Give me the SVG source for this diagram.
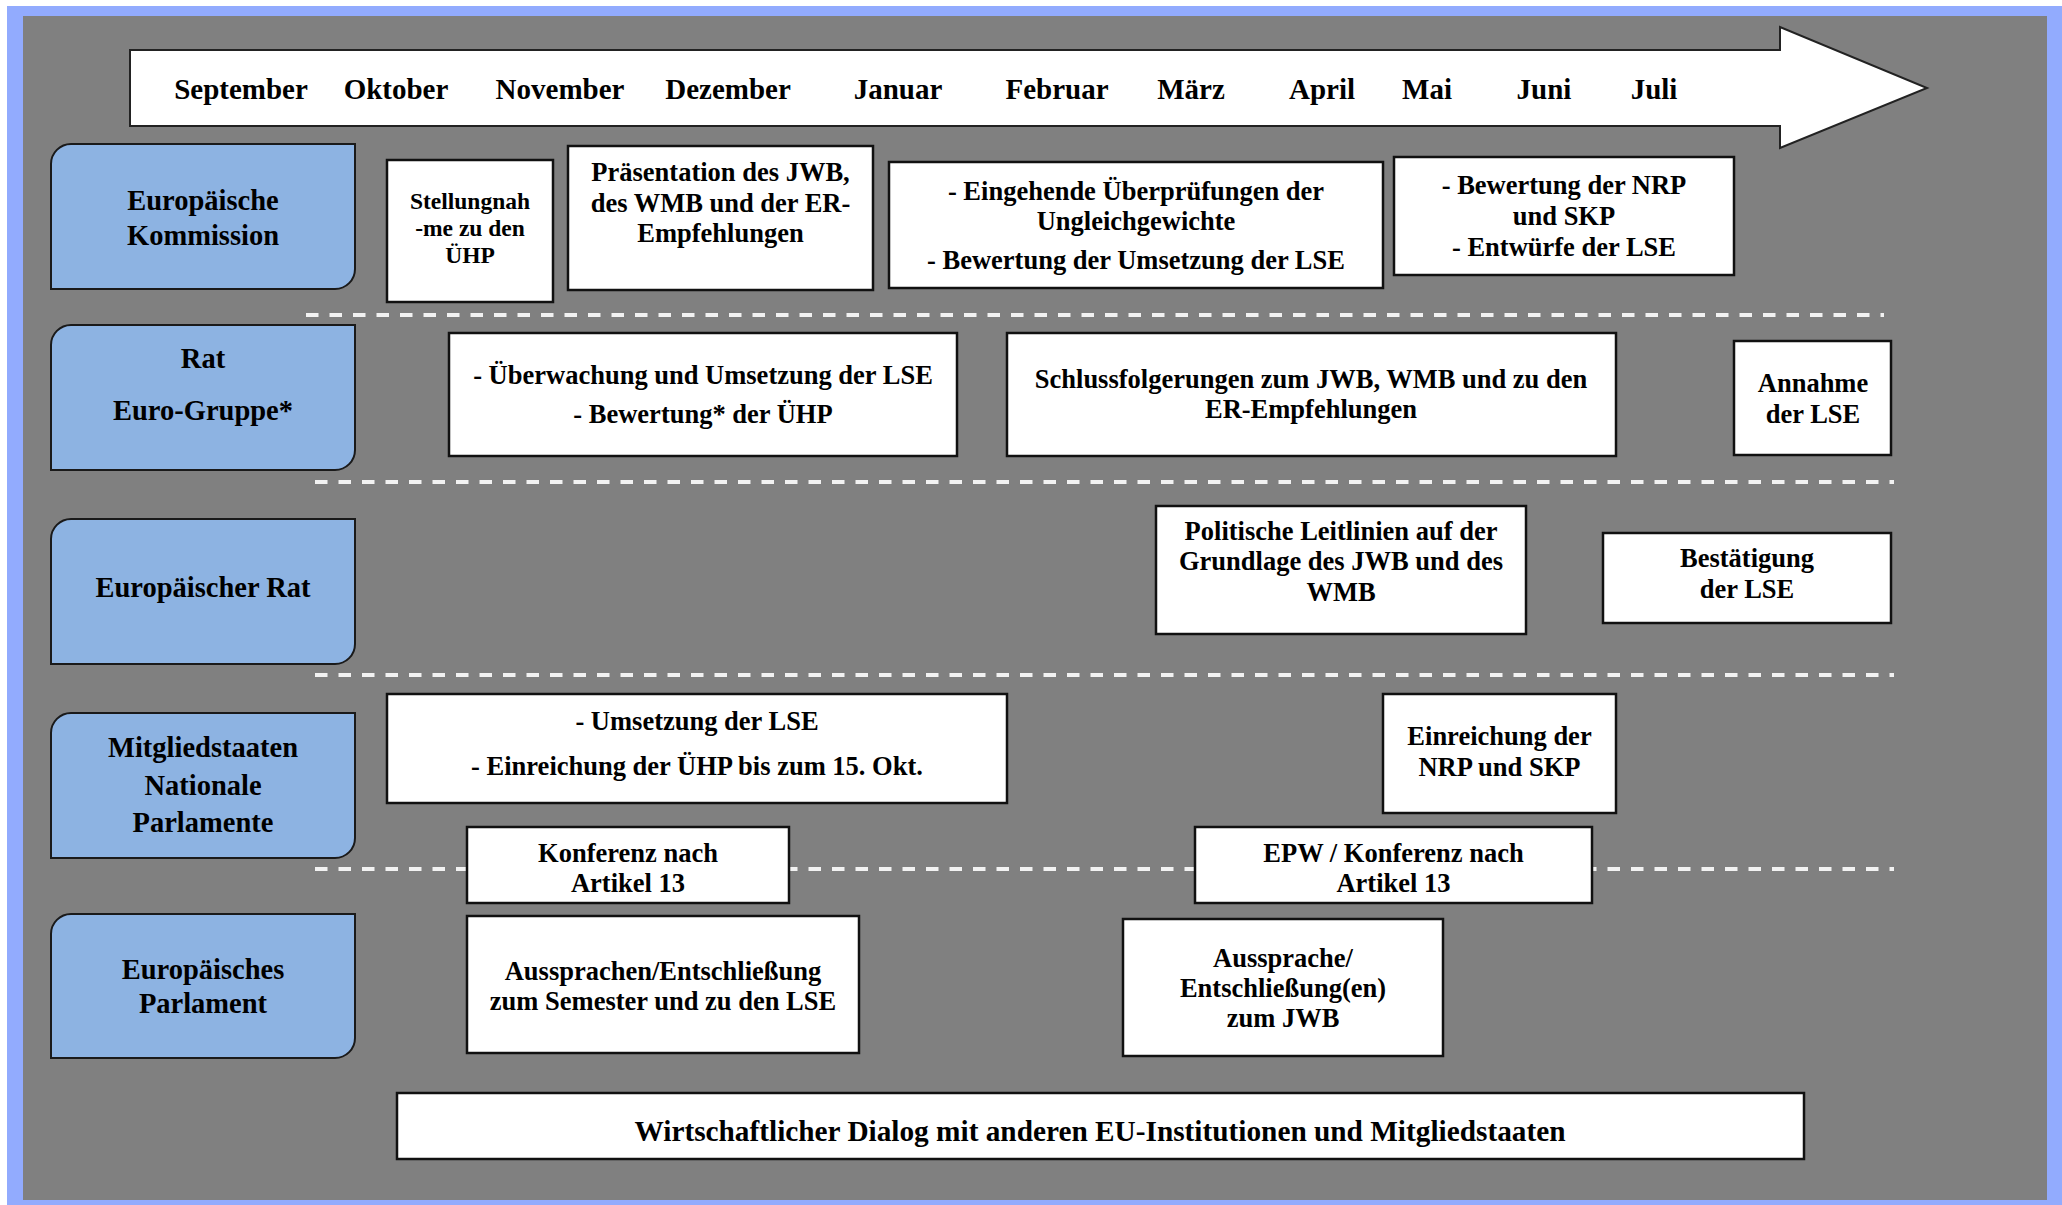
<svg xmlns="http://www.w3.org/2000/svg" width="2062" height="1205" viewBox="0 0 2062 1205">
<style>
text{font-family:"Liberation Serif","Times New Roman",serif;font-weight:bold;fill:#000;text-anchor:middle}
.m{font-size:29px}
.l{font-size:28.5px}
.c{font-size:26.5px}
.s{font-size:23.5px}
.w{font-size:29.3px}
.lane{fill:#8DB3E2;stroke:#1a1a1a;stroke-width:2}
.box{fill:#fff;stroke:#111;stroke-width:2.5}
.sep{stroke:#f2f2f2;stroke-width:4;stroke-dasharray:12.5 11;fill:none}
</style>
<rect x="0" y="0" width="2062" height="1205" fill="#fff"/>
<rect x="7" y="6" width="2055" height="1199" fill="#92ABFE"/>
<rect x="23" y="16" width="2024" height="1184" fill="#808080"/>

<g id="timeline">
<polygon points="130,50 1780,50 1780,27 1927,88 1780,148 1780,126 130,126" fill="#fff" stroke="#222" stroke-width="2"/>
<text class="m" x="241" y="99">September</text>
<text class="m" x="396" y="99">Oktober</text>
<text class="m" x="560" y="99">November</text>
<text class="m" x="728" y="99">Dezember</text>
<text class="m" x="898" y="99">Januar</text>
<text class="m" x="1057" y="99">Februar</text>
<text class="m" x="1191" y="99">März</text>
<text class="m" x="1322" y="99">April</text>
<text class="m" x="1427" y="99">Mai</text>
<text class="m" x="1544" y="99">Juni</text>
<text class="m" x="1654" y="99">Juli</text>
</g>

<g id="separators">
<line class="sep" x1="306" y1="315" x2="1884" y2="315"/>
<line class="sep" x1="315" y1="482" x2="1894" y2="482"/>
<line class="sep" x1="315" y1="675" x2="1894" y2="675"/>
<line class="sep" x1="315" y1="869" x2="1894" y2="869"/>
</g>

<g id="lane-kommission">
<path class="lane" d="M71,144 H355 V269 A20,20 0 0 1 335,289 H51 V164 A20,20 0 0 1 71,144 Z"/>
<text class="l" x="203" y="210">Europäische</text>
<text class="l" x="203" y="245">Kommission</text>
</g>
<g id="lane-rat">
<path class="lane" d="M71,325 H355 V450 A20,20 0 0 1 335,470 H51 V345 A20,20 0 0 1 71,325 Z"/>
<text class="l" x="203" y="368">Rat</text>
<text class="l" x="203" y="420">Euro-Gruppe*</text>
</g>
<g id="lane-er">
<path class="lane" d="M71,519 H355 V644 A20,20 0 0 1 335,664 H51 V539 A20,20 0 0 1 71,519 Z"/>
<text class="l" x="203" y="597">Europäischer Rat</text>
</g>
<g id="lane-ms">
<path class="lane" d="M71,713 H355 V838 A20,20 0 0 1 335,858 H51 V733 A20,20 0 0 1 71,713 Z"/>
<text class="l" x="203" y="757">Mitgliedstaaten</text>
<text class="l" x="203" y="795">Nationale</text>
<text class="l" x="203" y="832">Parlamente</text>
</g>
<g id="lane-ep">
<path class="lane" d="M71,914 H355 V1038 A20,20 0 0 1 335,1058 H51 V934 A20,20 0 0 1 71,914 Z"/>
<text class="l" x="203" y="979">Europäisches</text>
<text class="l" x="203" y="1013">Parlament</text>
</g>

<g id="stellungnahme">
<rect class="box" x="387" y="160" width="166" height="142"/>
<text class="s" x="470" y="209">Stellungnah</text>
<text class="s" x="470" y="236">-me zu den</text>
<text class="s" x="470" y="263">ÜHP</text>
</g>
<g id="praesentation">
<rect class="box" x="568" y="146" width="305" height="144"/>
<text class="c" x="720.5" y="181">Präsentation des JWB,</text>
<text class="c" x="720.5" y="212">des WMB und der ER-</text>
<text class="c" x="720.5" y="242">Empfehlungen</text>
</g>
<g id="ueberpruefungen">
<rect class="box" x="889" y="162" width="494" height="126"/>
<text class="c" x="1136" y="200">- Eingehende Überprüfungen der</text>
<text class="c" x="1136" y="230">Ungleichgewichte</text>
<text class="c" x="1136" y="269">- Bewertung der Umsetzung der LSE</text>
</g>
<g id="bewertung-nrp">
<rect class="box" x="1394" y="157" width="340" height="118"/>
<text class="c" x="1564" y="194">- Bewertung der NRP</text>
<text class="c" x="1564" y="225">und SKP</text>
<text class="c" x="1564" y="256">- Entwürfe der LSE</text>
</g>

<g id="ueberwachung">
<rect class="box" x="449" y="333" width="508" height="123"/>
<text class="c" x="703" y="384">- Überwachung und Umsetzung der LSE</text>
<text class="c" x="703" y="423">- Bewertung* der ÜHP</text>
</g>
<g id="schlussfolgerungen">
<rect class="box" x="1007" y="333" width="609" height="123"/>
<text class="c" x="1311" y="388">Schlussfolgerungen zum JWB, WMB und zu den</text>
<text class="c" x="1311" y="418">ER-Empfehlungen</text>
</g>
<g id="annahme">
<rect class="box" x="1734" y="341" width="157" height="114"/>
<text class="c" x="1813" y="392">Annahme</text>
<text class="c" x="1813" y="423">der LSE</text>
</g>

<g id="leitlinien">
<rect class="box" x="1156" y="506" width="370" height="128"/>
<text class="c" x="1341" y="540">Politische Leitlinien auf der</text>
<text class="c" x="1341" y="570">Grundlage des JWB und des</text>
<text class="c" x="1341" y="601">WMB</text>
</g>
<g id="bestaetigung">
<rect class="box" x="1603" y="533" width="288" height="90"/>
<text class="c" x="1747" y="567">Bestätigung</text>
<text class="c" x="1747" y="598">der LSE</text>
</g>

<g id="umsetzung">
<rect class="box" x="387" y="694" width="620" height="109"/>
<text class="c" x="697" y="730">- Umsetzung der LSE</text>
<text class="c" x="697" y="775">- Einreichung der ÜHP bis zum 15. Okt.</text>
</g>
<g id="einreichung-nrp">
<rect class="box" x="1383" y="694" width="233" height="119"/>
<text class="c" x="1499.5" y="745">Einreichung der</text>
<text class="c" x="1499.5" y="776">NRP und SKP</text>
</g>
<g id="konferenz">
<rect class="box" x="467" y="827" width="322" height="76"/>
<text class="c" x="628" y="862">Konferenz nach</text>
<text class="c" x="628" y="892">Artikel 13</text>
</g>
<g id="epw-konferenz">
<rect class="box" x="1195" y="827" width="397" height="76"/>
<text class="c" x="1393.5" y="862">EPW / Konferenz nach</text>
<text class="c" x="1393.5" y="892">Artikel 13</text>
</g>

<g id="aussprachen">
<rect class="box" x="467" y="916" width="392" height="137"/>
<text class="c" x="663" y="980">Aussprachen/Entschließung</text>
<text class="c" x="663" y="1010">zum Semester und zu den LSE</text>
</g>
<g id="aussprache-jwb">
<rect class="box" x="1123" y="919" width="320" height="137"/>
<text class="c" x="1283" y="967">Aussprache/</text>
<text class="c" x="1283" y="997">Entschließung(en)</text>
<text class="c" x="1283" y="1027">zum JWB</text>
</g>
<g id="dialog">
<rect class="box" x="397" y="1093" width="1407" height="66"/>
<text class="w" x="1100" y="1141">Wirtschaftlicher Dialog mit anderen EU-Institutionen und Mitgliedstaaten</text>
</g>
</svg>
